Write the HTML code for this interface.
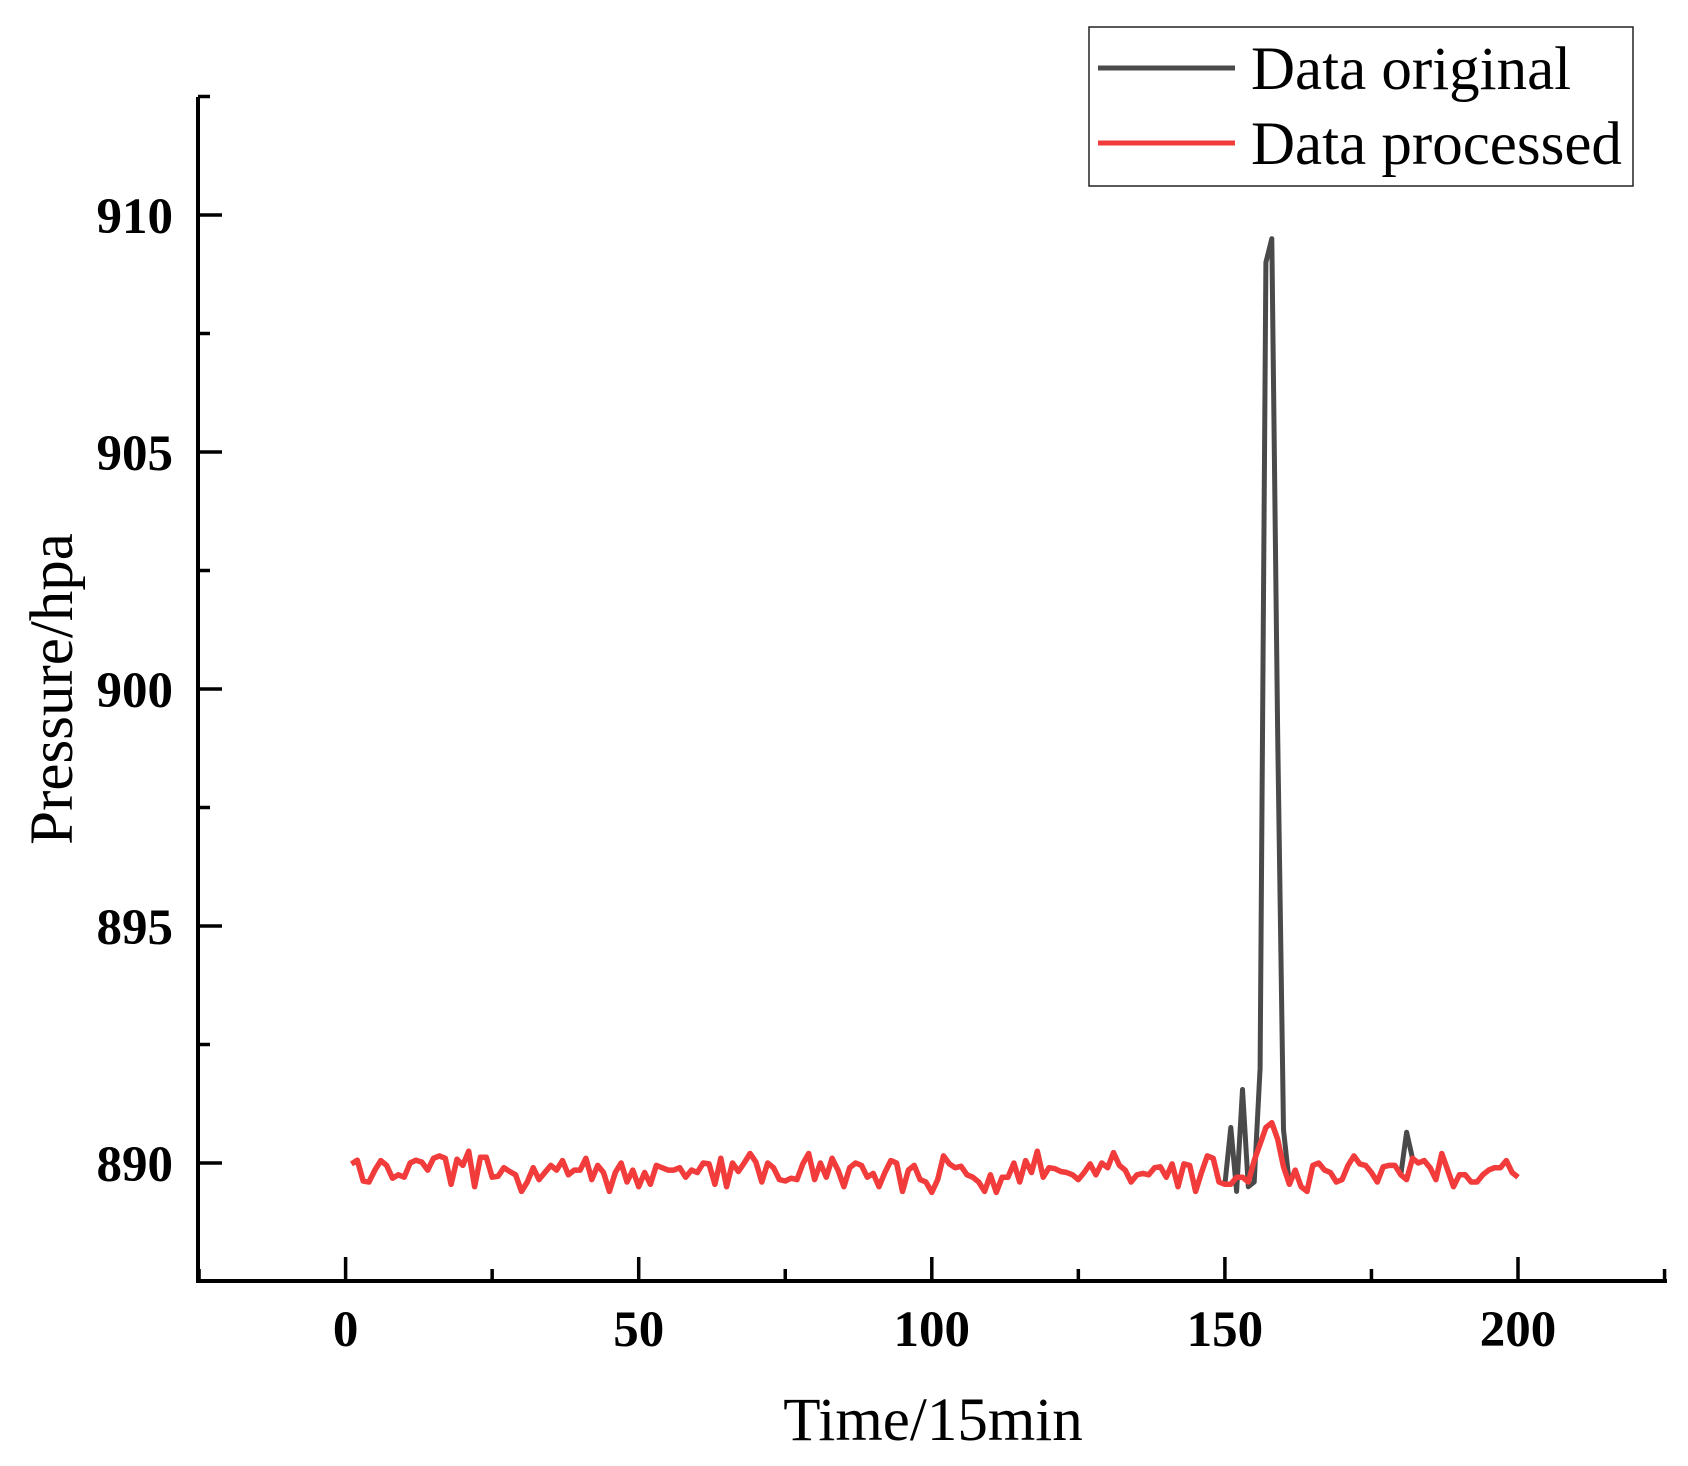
<!DOCTYPE html>
<html><head><meta charset="utf-8"><style>
html,body{margin:0;padding:0;background:#fff;}
svg{display:block;}
text{font-family:"Liberation Serif",serif;fill:#000;}
</style></head><body>
<svg id="chart" width="1688" height="1466" viewBox="0 0 1688 1466" xmlns="http://www.w3.org/2000/svg">
<g id="axes"></g>
<g id="series"></g>
<g>
<rect x="1089" y="27" width="544" height="159" fill="#fff" stroke="#222" stroke-width="1.5"/>
<line x1="1098" y1="68" x2="1235" y2="68" stroke="#4a4a4a" stroke-width="5"/>
<text x="1251" y="89" font-size="61">Data original</text>
<line x1="1098" y1="143" x2="1235" y2="143" stroke="#f23b3b" stroke-width="5"/>
<text x="1251" y="164" font-size="61">Data processed</text>
</g>
<text x="933" y="1440" font-size="61" text-anchor="middle">Time/15min</text>
<text x="0" y="0" font-size="61" text-anchor="middle" transform="translate(72,689) rotate(-90)">Pressure/hpa</text>
</svg>
<script>
const xTicks = [0, 50, 100, 150, 200];
const xTickLabels = ["0", "50", "100", "150", "200"];
const yTicks = [890, 895, 900, 905, 910];
const yTickLabels = ["890", "895", "900", "905", "910"];
const processed = [
889.98,890.06,889.62,889.6,889.85,890.05,889.95,889.68,889.75,889.7,
890.0,890.06,890.02,889.85,890.1,890.15,890.1,889.55,890.08,889.95,
890.25,889.5,890.12,890.12,889.7,889.72,889.9,889.82,889.75,889.4,
889.6,889.9,889.65,889.8,889.95,889.85,890.05,889.75,889.85,889.85,
890.1,889.65,889.95,889.8,889.4,889.8,890.0,889.6,889.85,889.5,
889.8,889.55,889.95,889.9,889.85,889.85,889.9,889.7,889.85,889.8,
890.0,889.98,889.55,890.1,889.5,890.0,889.82,890.0,890.2,890.02,
889.6,890.0,889.9,889.65,889.62,889.68,889.65,889.98,890.2,889.65,
890.0,889.7,890.1,889.85,889.5,889.9,890.0,889.95,889.7,889.78,
889.5,889.8,890.05,890.0,889.4,889.85,889.95,889.65,889.6,889.38,
889.65,890.15,889.98,889.9,889.93,889.75,889.7,889.6,889.4,889.75,
889.38,889.7,889.7,890.0,889.6,890.05,889.8,890.25,889.7,889.9,
889.88,889.82,889.8,889.75,889.65,889.8,889.98,889.75,890.0,889.9,
890.22,889.95,889.85,889.6,889.75,889.78,889.75,889.9,889.92,889.7,
889.98,889.5,889.98,889.95,889.4,889.8,890.15,890.1,889.6,889.55,
889.55,889.7,889.7,889.6,890.05,890.4,890.75,890.85,890.5,889.92,
889.55,889.85,889.5,889.4,889.95,890.0,889.85,889.8,889.6,889.65,
889.95,890.15,889.98,889.95,889.8,889.6,889.92,889.95,889.95,889.75,
889.65,890.1,890.0,890.05,889.9,889.65,890.2,889.85,889.5,889.75,
889.75,889.6,889.6,889.75,889.85,889.9,889.9,890.05,889.8,889.7
];
const originalOverrides = {151:890.75,152:889.4,153:891.55,154:889.5,155:889.6,156:892.0,157:909.0,158:909.5,159:899.0,160:890.7,181:890.65};

const NS = "http://www.w3.org/2000/svg";
function xPx(v){ return 345.6 + v * 5.862; }
function yPx(v){ return 1163 - (v - 890) * 47.4; }
function mk(tag, attrs, parent){
  const e = document.createElementNS(NS, tag);
  for (const k in attrs) e.setAttribute(k, attrs[k]);
  parent.appendChild(e);
  return e;
}
const axes = document.getElementById('axes');
const series = document.getElementById('series');
const x0 = 198, yBase = 1281, xEnd = 1667, yTop = 97;

let a = mk('line', {x1:x0, y1:yBase, x2:xEnd, y2:yBase, stroke:'#000', 'stroke-width':4}, axes);


a = mk('line', {x1:x0, y1:yTop, x2:x0, y2:yBase+2, stroke:'#000', 'stroke-width':4}, axes);



for (let v = -25; v <= 225; v += 25) {
  const major = v % 50 === 0;
  const t = mk('line', {x1:xPx(v), y1:yBase, x2:xPx(v), y2:yBase - (major ? 24 : 12), stroke:'#000', 'stroke-width':3.5}, axes);
  
  
}
xTicks.forEach((v, i) => {
  const t = mk('text', {x:xPx(v), y:1346, 'font-size':51, 'font-weight':'bold', 'text-anchor':'middle'}, axes);
  t.textContent = xTickLabels[i];
  
  
});
for (let v = 892.5; v <= 912.5; v += 2.5) {
  const major = Math.abs(v % 5) < 0.01;
  const t = mk('line', {x1:x0, y1:yPx(v), x2:x0 + (major ? 24 : 12), y2:yPx(v), stroke:'#000', 'stroke-width':3.5}, axes);
  
  
}
const t890 = mk('line', {x1:x0, y1:yPx(890), x2:x0+24, y2:yPx(890), stroke:'#000', 'stroke-width':3.5}, axes);


yTicks.forEach((v, i) => {
  const t = mk('text', {x:173, y:yPx(v) + 18, 'font-size':51, 'font-weight':'bold', 'text-anchor':'end'}, axes);
  t.textContent = yTickLabels[i];
  
  
});

const original = processed.map((v, i) => (originalOverrides[i + 1] !== undefined ? originalOverrides[i + 1] : v));
function pts(arr){ return arr.map((v, i) => xPx(i + 1).toFixed(1) + ',' + yPx(v).toFixed(1)).join(' '); }
const lo = mk('polyline', {points:pts(original), fill:'none', stroke:'#4a4a4a', 'stroke-width':5, 'stroke-linejoin':'round'}, series);


const lp = mk('polyline', {points:pts(processed), fill:'none', stroke:'#f23b3b', 'stroke-width':5.5, 'stroke-linejoin':'round'}, series);


</script>
</body></html>
